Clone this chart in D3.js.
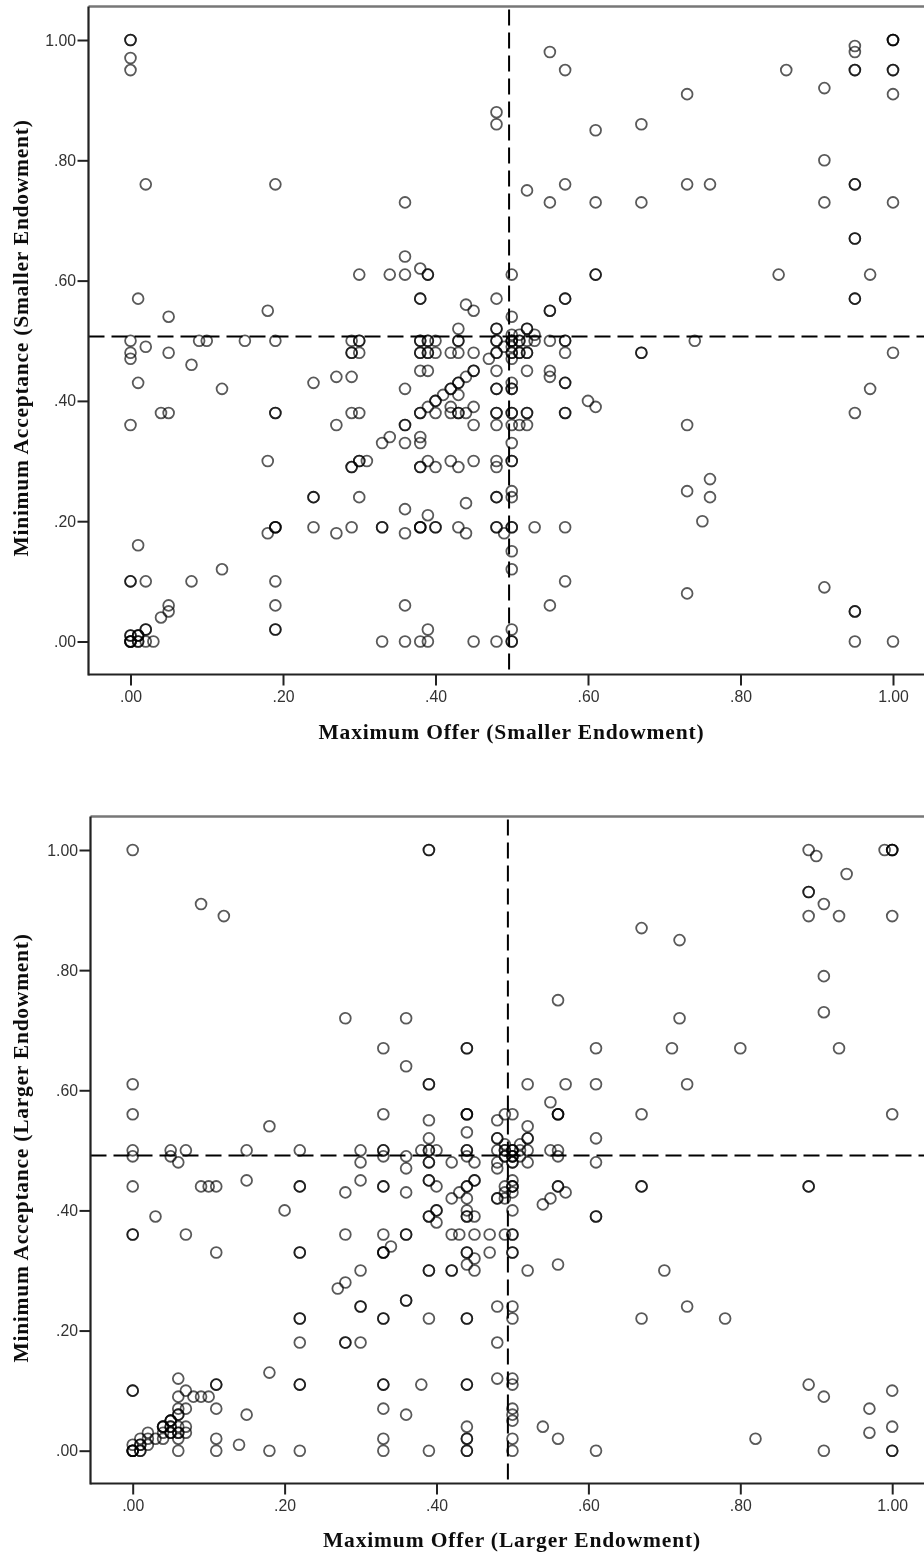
<!DOCTYPE html>
<html>
<head>
<meta charset="utf-8">
<script src="https://cdn.jsdelivr.net/npm/d3@7"></script>
<style>
  html, body { margin: 0; padding: 0; background: #fff; overflow: hidden; }
  svg { display: block; }
</style>
</head>
<body>
<script>
var tickValues = [0, 0.2, 0.4, 0.6, 0.8, 1];

// acceptance levels, and for each level the offers seen at that level (repeats = overlapping respondents)
var acceptSmall = [1, .99, .98, .97, .95, .92, .91, .88, .86, .85, .80, .76, .75, .73, .67, .64, .62, .61, .57, .56, .55, .54, .52, .51, .50, .49, .48, .47, .46, .45, .44, .43, .42, .41, .40, .39, .38, .36, .34, .33, .30, .29, .27, .25, .24, .23, .22, .21, .20, .19, .18, .16, .15, .12, .10, .09, .08, .06, .05, .04, .02, .01, 0];
var offerSmall = [
  [0,0,1,1,1], [.95], [.55,.95], [0], [0,.57,.86,.95,.95,1,1], [.91], [.73,1], [.48], [.48,.67], [.61], [.91],
  [.02,.19,.57,.73,.76,.95,.95], [.52], [.36,.55,.61,.67,.91,1], [.95,.95], [.36], [.38],
  [.30,.34,.36,.39,.39,.50,.61,.61,.85,.97], [.01,.38,.38,.48,.57,.57,.95,.95], [.44], [.18,.45,.55,.55], [.05,.50],
  [.43,.48,.48,.52,.52], [.50,.51,.53],
  [0,.09,.10,.15,.19,.29,.30,.30,.38,.38,.39,.39,.40,.43,.43,.48,.48,.50,.50,.50,.51,.51,.52,.53,.55,.57,.57,.74],
  [.02,.49,.50],
  [0,.05,.29,.29,.30,.38,.38,.39,.39,.40,.42,.43,.45,.48,.48,.50,.50,.51,.51,.52,.52,.57,.67,.67,1],
  [0,.47,.50], [.08], [.38,.39,.45,.45,.48,.52,.55], [.27,.29,.44,.55], [.01,.24,.43,.43,.50,.57,.57],
  [.12,.36,.42,.42,.48,.48,.50,.50,.97], [.41,.43], [.40,.40,.60], [.39,.42,.45,.61],
  [.04,.05,.19,.19,.29,.30,.38,.38,.40,.42,.43,.43,.44,.48,.48,.50,.50,.52,.52,.57,.57,.95],
  [0,.27,.36,.36,.45,.48,.50,.51,.52,.73], [.34,.38], [.33,.36,.38,.50],
  [.18,.30,.30,.31,.39,.42,.45,.48,.50,.50], [.29,.29,.38,.38,.40,.43,.48], [.76], [.50,.73],
  [.24,.24,.30,.48,.48,.50,.76], [.44], [.36], [.39], [.75],
  [.19,.19,.19,.24,.29,.33,.33,.38,.38,.38,.40,.40,.43,.48,.48,.50,.50,.53,.57],
  [.18,.27,.36,.44,.49], [.01], [.50], [.12,.50], [0,0,.02,.08,.19,.57], [.91], [.73], [.05,.19,.36,.55],
  [.05,.95,.95], [.04], [.02,.02,.19,.19,.39,.50], [0,0,.01,.01,.01],
  [0,0,0,0,.01,.01,.02,.03,.33,.36,.38,.39,.45,.48,.50,.50,.95,1]
];

var acceptLarge = [1, .99, .96, .93, .91, .89, .87, .85, .79, .75, .73, .72, .67, .64, .61, .58, .56, .55, .54, .53, .52, .51, .50, .49, .48, .47, .45, .44, .43, .42, .41, .40, .39, .38, .36, .34, .33, .32, .31, .30, .28, .27, .25, .24, .22, .18, .13, .12, .11, .10, .09, .07, .06, .05, .04, .03, .02, .01, 0];
var offerLarge = [
  [0,.39,.39,.89,.99,1,1,1], [.90], [.94], [.89,.89], [.09,.91], [.12,.89,.93,1], [.67], [.72], [.91], [.56], [.91],
  [.28,.36,.72], [.33,.44,.44,.61,.71,.80,.93], [.36], [0,.39,.39,.52,.57,.61,.73], [.55],
  [0,.33,.44,.44,.44,.49,.50,.56,.56,.56,.67,1], [.39,.48], [.18,.52], [.44], [.39,.48,.48,.52,.52,.61], [.49,.51],
  [0,.05,.07,.15,.22,.30,.33,.33,.38,.39,.39,.40,.44,.44,.48,.49,.49,.50,.50,.50,.51,.52,.55,.56],
  [0,.05,.33,.36,.44,.49,.49,.50,.50,.50,.51,.56],
  [.06,.30,.39,.39,.42,.45,.48,.50,.50,.52,.61], [.36,.48], [.15,.30,.39,.39,.45,.45,.50],
  [0,.09,.10,.11,.22,.22,.33,.33,.40,.44,.44,.49,.50,.50,.50,.56,.56,.67,.67,.89,.89],
  [.28,.36,.43,.49,.50,.57], [.42,.44,.48,.48,.49,.55], [.54], [.20,.40,.40,.44,.50],
  [.03,.39,.39,.44,.44,.45,.61,.61], [.40], [0,0,.07,.28,.33,.36,.36,.42,.43,.45,.47,.49,.50,.50], [.34],
  [.11,.22,.22,.33,.33,.33,.44,.44,.47,.50,.50], [.45], [.44,.56], [.30,.39,.39,.42,.42,.45,.52,.70], [.28], [.27],
  [.36,.36], [.30,.30,.48,.50,.73], [.22,.22,.33,.33,.39,.44,.44,.50,.67,.78], [.22,.28,.28,.30,.48], [.18],
  [.06,.48,.50], [.11,.11,.22,.22,.33,.33,.38,.44,.44,.50,.89], [0,0,.07,1], [.06,.08,.09,.10,.91],
  [.06,.07,.11,.33,.50,.97], [.06,.06,.15,.36,.50], [.05,.05,.05,.50], [.04,.04,.04,.05,.05,.06,.07,.44,.54,1],
  [.02,.04,.05,.05,.06,.06,.07,.97], [.01,.02,.03,.04,.06,.11,.33,.44,.44,.50,.56,.82], [0,.01,.01,.02,.14],
  [0,0,0,0,.01,.01,.06,.11,.18,.22,.33,.39,.44,.44,.50,.61,.91,1,1]
];

// mean reference lines
var refSmall = [0.4965, 0.507];
var refLarge = [0.494, 0.4915];

var width = 924, height = 1559;

var svg = d3.select("body").append("svg")
  .attr("width", width)
  .attr("height", height);

// the source is a slightly soft bitmap
var soft = svg.append("defs").append("filter")
  .attr("id", "soft")
  .attr("filterUnits", "userSpaceOnUse")
  .attr("x", 0).attr("y", 0).attr("width", width).attr("height", height);
soft.append("feGaussianBlur").attr("stdDeviation", 0.5);

function drawPanel(p) {
  var x = d3.scaleLinear().domain([0, 1]).range([p.x0, p.x1]);
  var y = d3.scaleLinear().domain([0, 1]).range([p.y0, p.y1]);
  var g = svg.append("g").attr("filter", "url(#soft)");

  var points = p.accept.flatMap(function(a, i) {
    return p.offer[i].map(function(o) { return { offer: o, accept: a }; });
  });

  g.selectAll("circle")
    .data(points)
    .enter()
    .append("circle")
    .attr("cx", function(d) { return x(d.offer); })
    .attr("cy", function(d) { return y(d.accept); })
    .attr("r", 5.4)
    .attr("fill", "none")
    .attr("stroke", "#000")
    .attr("stroke-opacity", 0.65)
    .attr("stroke-width", 1.8);

  // reference lines
  g.append("line")
    .attr("x1", x(p.ref[0])).attr("x2", x(p.ref[0]))
    .attr("y1", p.top + 3).attr("y2", p.bottom)
    .attr("stroke", "#000").attr("stroke-width", 2)
    .attr("stroke-dasharray", "16,7");
  g.append("line")
    .attr("x1", p.left).attr("x2", width)
    .attr("y1", y(p.ref[1])).attr("y2", y(p.ref[1]))
    .attr("stroke", "#000").attr("stroke-width", 2)
    .attr("stroke-dasharray", "16,7");

  // top frame edge is lighter in the source
  g.append("line")
    .attr("x1", p.left).attr("x2", width)
    .attr("y1", p.top).attr("y2", p.top)
    .attr("stroke", "#777").attr("stroke-width", 2.6);

  var fmt = function(d) { return d3.format(".2f")(d).replace(/^0/, ""); };

  var xAxis = g.append("g")
    .attr("transform", "translate(0," + p.bottom + ")")
    .call(d3.axisBottom(x).tickValues(tickValues).tickFormat(fmt).tickSize(11).tickSizeOuter(0));
  var yAxis = g.append("g")
    .attr("transform", "translate(" + p.left + ",0)")
    .call(d3.axisLeft(y).tickValues(tickValues).tickFormat(fmt).tickSize(11).tickSizeOuter(0));

  [xAxis, yAxis].forEach(function(a) {
    a.selectAll("path").remove();
    a.selectAll("line").attr("stroke", "#222").attr("stroke-width", 2);
    a.selectAll("text")
      .attr("font-family", "Liberation Sans, Arial, sans-serif")
      .attr("font-size", "15.8px")
      .attr("fill", "#333");
  });
  xAxis.selectAll("text").attr("y", 16.5);
  yAxis.selectAll("text").attr("x", -12.5);

  // left and bottom frame edges
  g.append("line")
    .attr("x1", p.left).attr("x2", p.left).attr("y1", p.top).attr("y2", p.bottom + 1)
    .attr("stroke", "#222").attr("stroke-width", 2.2);
  g.append("line")
    .attr("x1", p.left).attr("x2", width).attr("y1", p.bottom).attr("y2", p.bottom)
    .attr("stroke", "#222").attr("stroke-width", 2.2);

  // axis titles
  g.append("text")
    .attr("x", p.xTitleX).attr("y", p.xTitleY)
    .attr("text-anchor", "middle")
    .attr("font-family", "Liberation Serif, serif")
    .attr("font-weight", "bold")
    .attr("font-size", "21.5px")
    .attr("letter-spacing", "0.85px")
    .attr("fill", "#111")
    .text(p.xTitle);
  g.append("text")
    .attr("transform", "translate(28," + p.yTitleY + ") rotate(-90)")
    .attr("text-anchor", "middle")
    .attr("font-family", "Liberation Serif, serif")
    .attr("font-weight", "bold")
    .attr("font-size", "21.5px")
    .attr("letter-spacing", "0.75px")
    .attr("fill", "#111")
    .text(p.yTitle);
}

drawPanel({
  accept: acceptSmall, offer: offerSmall, ref: refSmall,
  x0: 130.5, x1: 893, y0: 641.5, y1: 40,
  left: 88.5, top: 6.5, bottom: 674.5,
  xTitle: "Maximum Offer (Smaller Endowment)", xTitleX: 511.5, xTitleY: 739,
  yTitle: "Minimum Acceptance (Smaller Endowment)", yTitleY: 338
});

drawPanel({
  accept: acceptLarge, offer: offerLarge, ref: refLarge,
  x0: 132.7, x1: 892.2, y0: 1450.7, y1: 850,
  left: 90.5, top: 816.5, bottom: 1483.5,
  xTitle: "Maximum Offer (Larger Endowment)", xTitleX: 512, xTitleY: 1547,
  yTitle: "Minimum Acceptance (Larger Endowment)", yTitleY: 1148
});
</script>
</body>
</html>
